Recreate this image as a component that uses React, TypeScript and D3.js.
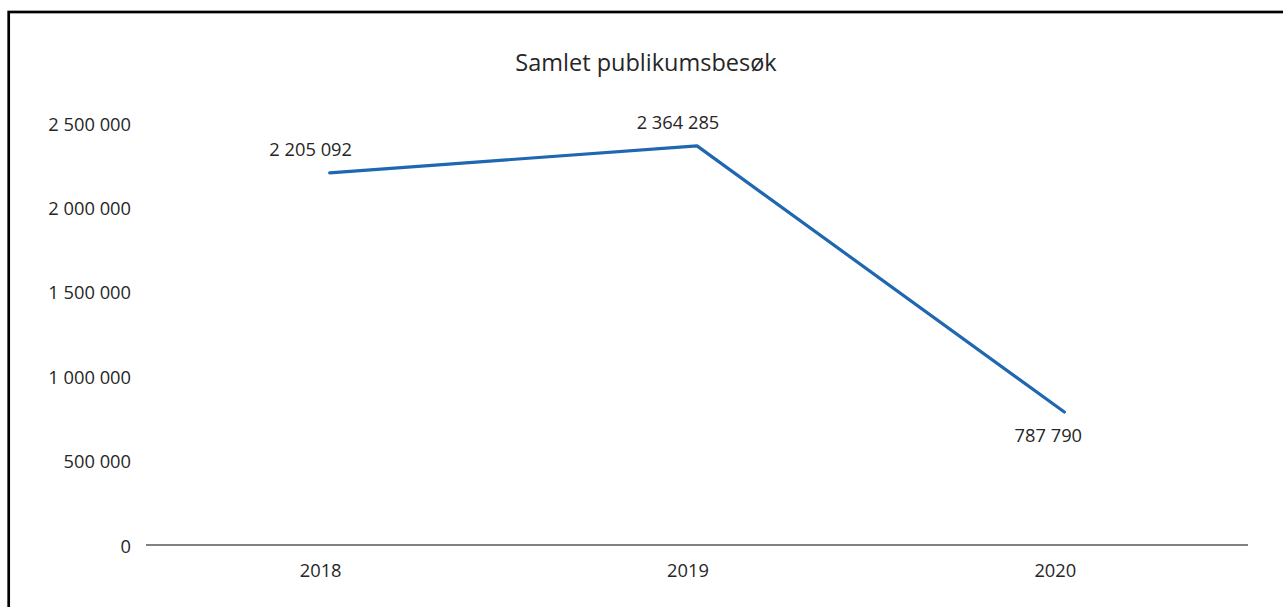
import React from "react";
import * as d3 from "d3";

const categories = ["2018", "2019", "2020"];
const visitors = [2205092, 2364285, 787790];
const yTicks = [0, 500000, 1000000, 1500000, 2000000, 2500000];
const title = "Samlet publikumsbesøk";

const W = 1283;
const H = 607;
const FONT = "'Open Sans', 'Noto Sans', sans-serif";
const TEXT = "#262626";

const fmt = (v: number) => d3.format(",")(v).replace(/,/g, " ");

export default function App() {
  const x = d3.scaleBand<string>().domain(categories).range([146, 1248]);
  const y = d3.scaleLinear().domain([0, 2500000]).range([545, 123]);
  const cx = (c: string) => (x(c) as number) + x.bandwidth() / 2;

  const line = d3
    .line<number>()
    .x((_, i) => cx(categories[i]))
    .y((d) => y(d));

  return (
    <svg
      width={W}
      height={H}
      style={{ position: "absolute", left: 0, top: 0, background: "#fff" }}
      fontFamily={FONT}
    >
      <rect x={8.7} y={12} width={W + 20} height={H + 20} fill="#fff" stroke="#000" strokeWidth={2.7} />
      <text x={646} y={62} textAnchor="middle" dominantBaseline="central" fontSize={23.5} fill={TEXT}>
        {title}
      </text>
      {yTicks.map((t) => (
        <text
          key={t}
          x={131}
          y={y(t)}
          textAnchor="end"
          dominantBaseline="central"
          fontSize={18.3}
          fill={TEXT}
        >
          {fmt(t)}
        </text>
      ))}
      <line x1={146} x2={1248} y1={y(0)} y2={y(0)} stroke="#595959" strokeWidth={1.3} />
      {categories.map((c) => (
        <text
          key={c}
          x={cx(c) - 9}
          y={569}
          textAnchor="middle"
          dominantBaseline="central"
          fontSize={18.3}
          fill={TEXT}
        >
          {c}
        </text>
      ))}
      <path
        d={line(visitors) || ""}
        fill="none"
        stroke="#1f67b1"
        strokeWidth={3.2}
        strokeLinejoin="round"
        strokeLinecap="round"
      />
      {visitors.map((v, i) => {
        const below = i === visitors.length - 1;
        return (
          <text
            key={i}
            x={cx(categories[i]) - (below ? 16 : 19)}
            y={y(v) + (below ? 22 : -24)}
            textAnchor="middle"
            dominantBaseline="central"
            fontSize={18.3}
            fill={TEXT}
          >
            {fmt(v)}
          </text>
        );
      })}
    </svg>
  );
}
